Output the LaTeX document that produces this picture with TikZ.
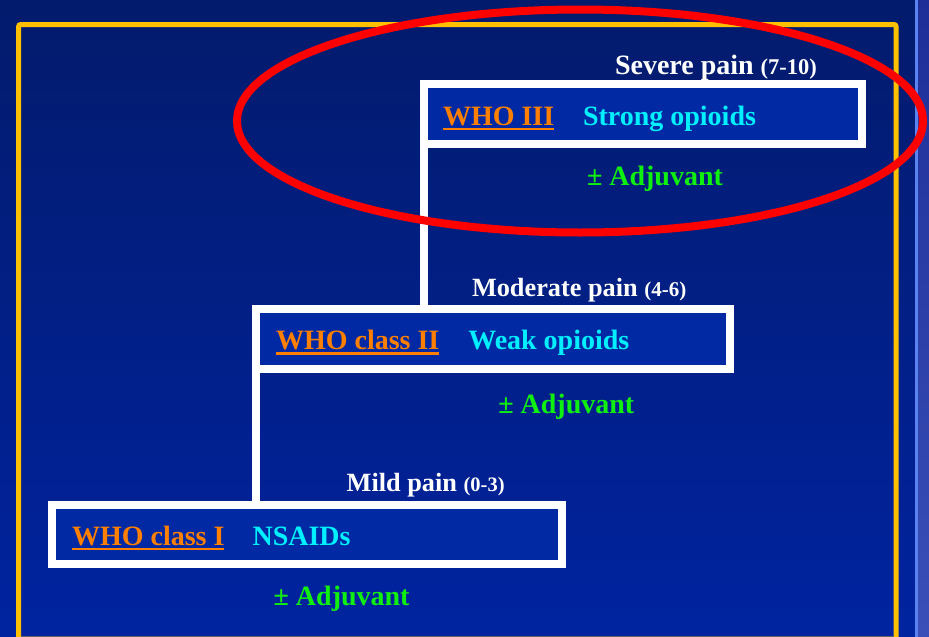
\documentclass[tikz,border=0pt]{standalone}
\usepackage{fontspec}
\setmainfont{Liberation Serif}
\definecolor{bgtop}{HTML}{031B6C}
\definecolor{bgbot}{HTML}{0023A0}
\definecolor{boxfill}{HTML}{0029A3}
\definecolor{striptop}{HTML}{1E2E98}
\definecolor{stripbot}{HTML}{3A50B8}
\definecolor{stripline}{HTML}{5A82F0}
\definecolor{frameyellow}{HTML}{FFC000}
\definecolor{whoorange}{HTML}{FF8000}
\definecolor{drugcyan}{HTML}{00F0FF}
\definecolor{adjgreen}{HTML}{10F010}
\newcommand\fsz[1]{\fontsize{#1}{#1}\selectfont}
\begin{document}
\begin{tikzpicture}[x=1pt,y=-1pt,
  box/.style={draw=white, line width=8pt, fill=boxfill, inner sep=0pt, outer sep=0pt},
  conn/.style={draw=white, line width=8pt},
  lbl/.style={anchor=base west, inner sep=0pt, outer sep=0pt, font=\bfseries},
  who/.style={lbl, text=whoorange},
  drug/.style={lbl, text=drugcyan},
  adj/.style={lbl, text=adjgreen},
  pain/.style={lbl, text=white},
  uline/.style={draw=whoorange, line width=2.5pt}]
\useasboundingbox (0,0) rectangle (929,637);
% background
\shade[top color=bgtop, bottom color=bgbot] (0,0) rectangle (929,637);
\shade[top color=striptop, bottom color=stripbot] (917.5,0) rectangle (929,637);
\fill[stripline] (915,0) rectangle (917.5,637);
\draw[frameyellow, line width=5pt, rounded corners=2pt] (18.7,645) -- (18.7,24.5) -- (896,24.5) -- (896,645);
\draw[black!60, line width=1pt] (21,636.5) -- (893.5,636.5);
% boxes
\node[box, minimum width=438pt, minimum height=60pt] (b3) at (643,114) {};
\node[box, minimum width=474pt, minimum height=60pt] (b2) at (493,339) {};
\node[box, minimum width=510pt, minimum height=59.5pt] (b1) at (307,534.25) {};
% connectors
\draw[conn] (b3.south west) -- (b3.south west |- b2.north);
\draw[conn] (b2.south west) -- (b2.south west |- b1.north);
% level III
\node[pain] (p3) at (615,74.5) {\fsz{28}Severe pain \fsz{22.5}(7-10)};
\node[who] (w3) at (443,125) {\fsz{28}WHO III};
\draw[uline] ([yshift=-4pt]w3.base west) -- ([yshift=-4pt]w3.base east);
\node[drug] (d3) at (583,125) {\fsz{28}Strong opioids};
\node[adj] (a3) at (587,185.5) {\fsz{28}± Adjuvant};
% level II
\node[pain] (p2) at (472,296.7) {\fsz{26.3}Moderate pain \fsz{21}(4-6)};
\node[who] (w2) at (276,349.3) {\fsz{28}WHO class II};
\draw[uline] ([yshift=-4pt]w2.base west) -- ([yshift=-4pt]w2.base east);
\node[drug] (d2) at (468.3,349.3) {\fsz{28}Weak opioids};
\node[adj] (a2) at (498.3,413) {\fsz{28}± Adjuvant};
% level I
\node[pain] (p1) at (346.7,491.7) {\fsz{26.3}Mild pain \fsz{20.5}(0-3)};
\node[who] (w1) at (72,545) {\fsz{28}WHO class I};
\draw[uline] ([yshift=-4pt]w1.base west) -- ([yshift=-4pt]w1.base east);
\node[drug] (d1) at (252.6,545) {\fsz{28}NSAIDs};
\node[adj] (a1) at (273.6,605) {\fsz{28}± Adjuvant};
% highlight ellipse
\draw[red, line width=8pt] (580,121) ellipse [x radius=343pt, y radius=111.5pt];
\end{tikzpicture}
\end{document}
